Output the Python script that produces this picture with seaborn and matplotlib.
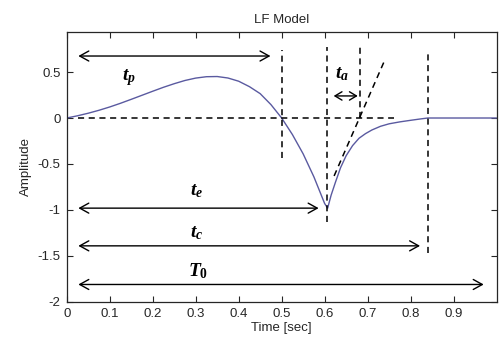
import numpy as np
import pandas as pd
import matplotlib
matplotlib.use('Agg')
import matplotlib.pyplot as plt
import seaborn as sns

# LF 모델 파형
t_open = [0.0, 0.025, 0.05, 0.075, 0.1, 0.125, 0.15, 0.175, 0.2, 0.225, 0.25,
          0.275, 0.3, 0.325, 0.35, 0.375, 0.4, 0.425, 0.45, 0.475, 0.5,
          0.525, 0.55, 0.575, 0.6, 0.607]
e_open = [0.0, 0.024, 0.052, 0.084, 0.120, 0.160, 0.203, 0.247, 0.291, 0.334, 0.373,
          0.408, 0.434, 0.449, 0.451, 0.435, 0.400, 0.341, 0.265, 0.146, 0.0,
          -0.18, -0.39, -0.64, -0.93, -0.98]
t_ret = [0.615, 0.625, 0.637, 0.65, 0.665, 0.68, 0.695, 0.71, 0.73, 0.75,
         0.775, 0.8, 0.82, 0.84, 1.0]
e_ret = [-0.84, -0.70, -0.54, -0.41, -0.30, -0.22, -0.17, -0.13, -0.09, -0.063,
         -0.042, -0.025, -0.012, 0.0, 0.0]

# 시간 구간 표시
tp, te, ta_end, tc = 0.501, 0.606, 0.682, 0.841
x_ticks = [0, 0.1, 0.2, 0.3, 0.4, 0.5, 0.6, 0.7, 0.8, 0.9]
x_labels = ['0', '0.1', '0.2', '0.3', '0.4', '0.5', '0.6', '0.7', '0.8', '0.9']
y_ticks = [-2, -1.5, -1, -0.5, 0, 0.5]
y_labels = ['-2', '-1.5', '-1', '-0.5', '0', '0.5']

wave = pd.DataFrame({'time': t_open + t_ret, 'amp': e_open + e_ret})

sns.set_style('ticks')
plt.rcParams['font.family'] = ['Liberation Sans', 'DejaVu Sans']
plt.rcParams['mathtext.fontset'] = 'custom'
plt.rcParams['mathtext.it'] = 'Liberation Serif:italic:bold'
plt.rcParams['mathtext.rm'] = 'Liberation Serif:bold'
plt.rcParams['mathtext.bf'] = 'Liberation Serif:bold'

fig = plt.figure(figsize=(4.99, 3.37), dpi=100)
ax = fig.add_axes([0.1337, 0.104, 0.8615, 0.801])

sns.lineplot(data=wave, x='time', y='amp', ax=ax, color='#5a5aa0',
             linewidth=1.0, sort=False, estimator=None)

dash = dict(color='black', linestyle=(0, (4, 3)), linewidth=1.1)
ax.plot([tp, tp], [-0.43, 0.74], **dash)
ax.plot([te, te], [-1.13, 0.77], **dash)
ax.plot([ta_end, ta_end], [0, 0.77], **dash)
ax.plot([tc, tc], [-1.47, 0.74], **dash)
ax.plot([0.027, 0.761], [0, 0], **dash)
ax.plot([0.622, 0.738], [-0.63, 0.61], **dash)

def arrow(x0, x1, y, hl=0.65, hw=0.36):
    ax.annotate('', xy=(x1, y), xytext=(x0, y),
                arrowprops=dict(arrowstyle='<->,head_length=%g,head_width=%g' % (hl, hw),
                                color='black', lw=1.0, shrinkA=0, shrinkB=0))

arrow(0.027, 0.474, 0.674)
arrow(0.621, 0.677, 0.24, 0.5, 0.3)
arrow(0.027, 0.586, -0.98)
arrow(0.027, 0.822, -1.39)
arrow(0.027, 0.970, -1.81)

lab = dict(fontsize=14, ha='left', va='center', color='black')
ax.text(0.128, 0.44, r'$t_p$', **lab)
ax.text(0.625, 0.48, r'$t_a$', **lab)
ax.text(0.287, -0.79, r'$t_e$', **lab)
ax.text(0.287, -1.25, r'$t_c$', **lab)
ax.text(0.283, -1.67, r'$T_0$', **lab)

ax.set_xlim(0, 1.0)
ax.set_ylim(-2, 0.935)
ax.set_xticks(x_ticks)
ax.set_xticklabels(x_labels)
ax.set_yticks(y_ticks)
ax.set_yticklabels(y_labels)
ax.tick_params(direction='in', length=4, width=0.8, top=True, right=True,
               labelsize=9.5, labelcolor='#262626', color='#262626', pad=4.5)
for s in ax.spines.values():
    s.set_visible(True)
    s.set_color('#262626')
    s.set_linewidth(0.9)

ax.set_xlabel('Time [sec]', fontsize=9.5, color='#262626', va='center')
ax.set_ylabel('Amplitude', fontsize=9.5, color='#262626')
ax.xaxis.set_label_coords(0.5, -0.095)
ax.yaxis.set_label_coords(-0.081, 0.5)
ax.text(0.5, 1.045, 'LF Model', transform=ax.transAxes, ha='center', va='center',
        fontsize=9.5, color='#262626')

fig.savefig('out.png', dpi=100)
